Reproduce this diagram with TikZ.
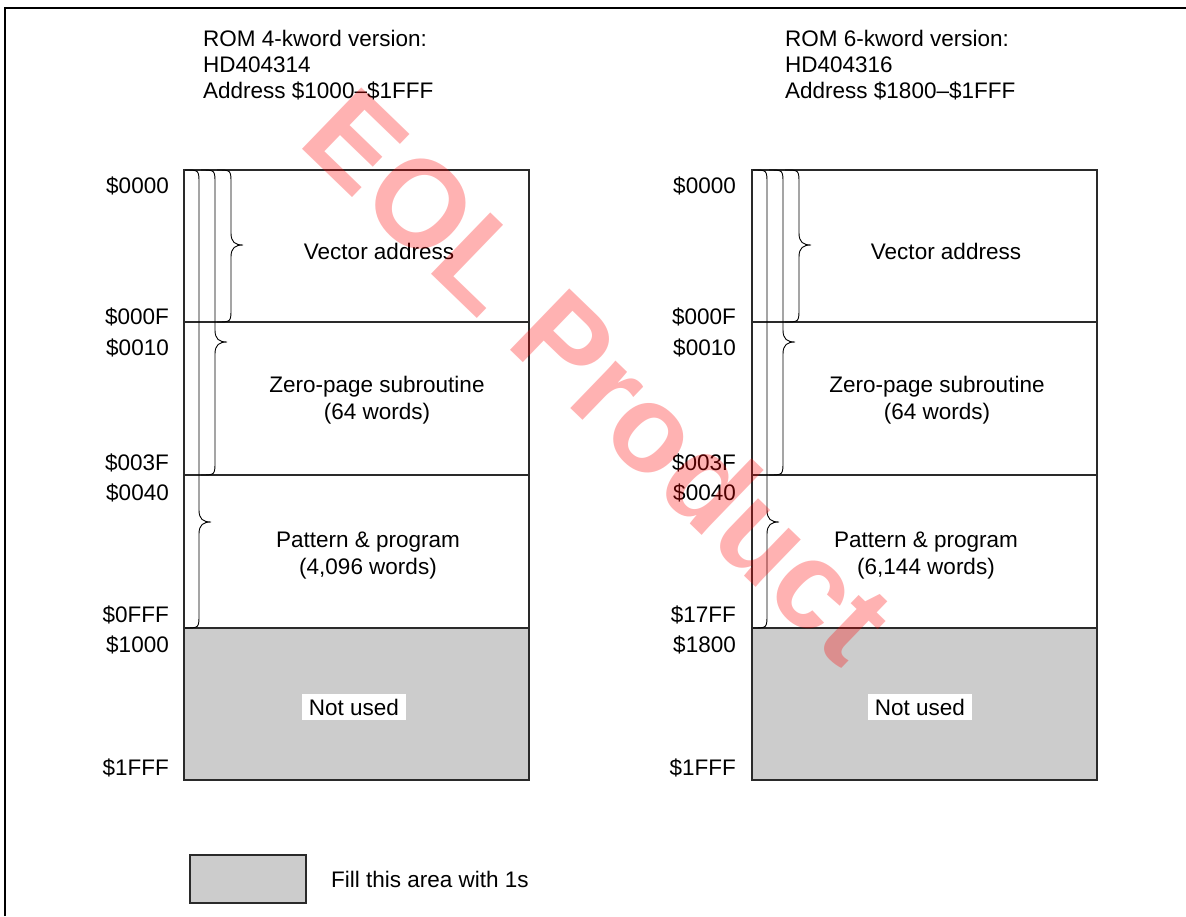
\documentclass[tikz,border=0pt]{standalone}
\usepackage{fontspec}
\setmainfont{Liberation Sans}
\definecolor{unused}{HTML}{CCCCCC}
\definecolor{boxline}{HTML}{2A2A2A}
\tikzset{
  frameline/.style={draw=black, line width=1.6pt},
  memsec/.style={draw=boxline, line width=1.3pt},
  grayarea/.style={fill=unused, draw=boxline, line width=1.3pt},
  bracepath/.style={draw=black, line width=0.9pt},
  addr/.style={anchor=base east, inner sep=0pt, font=\fontsize{22.5}{27}\selectfont},
  head/.style={anchor=base west, inner sep=0pt, align=left, font=\fontsize{22.5}{26}\selectfont},
  sectxt/.style={anchor=base, inner sep=0pt, align=center, font=\fontsize{22.5}{27}\selectfont},
  notused/.style={fill=white, inner xsep=7pt, inner ysep=5pt, font=\fontsize{22.5}{27}\selectfont},
  wmark/.style={text=red, opacity=0.3, font=\bfseries\fontsize{124}{124}\selectfont, inner sep=0pt},
}
\begin{document}
\begin{tikzpicture}[x=1pt,y=-1pt]
\useasboundingbox (0,0) rectangle (1186,916);
% outer frame (only top and left edges visible)
\draw[frameline] (5,916) -- (5,8) -- (1186,8);

% memory maps
\foreach \bx in {184,752}{
  \fill[unused] (\bx,628) rectangle ({\bx+345},780);
  \draw[memsec] (\bx,170) rectangle ({\bx+345},780);
  \draw[memsec] (\bx,322) -- ({\bx+345},322);
  \draw[memsec] (\bx,475) -- ({\bx+345},475);
  \draw[memsec] (\bx,628) -- ({\bx+345},628);
  % braces: stem offset / bottom / tip y
  \foreach \so/\bb/\my in {47/322/245, 31/475/342, 15/628/522}{
    \draw[bracepath] ({\bx+\so-14},170) .. controls ({\bx+\so},170) .. ({\bx+\so},184)
      -- ({\bx+\so},{\my-12})
      .. controls ({\bx+\so},{\my-3}) and ({\bx+\so+4},\my) .. ({\bx+\so+12},\my)
      .. controls ({\bx+\so+4},\my) and ({\bx+\so},{\my+3}) .. ({\bx+\so},{\my+12})
      -- ({\bx+\so},{\bb-14})
      .. controls ({\bx+\so},\bb) .. ({\bx+\so-14},\bb);
  }
}

% headers (base anchor = last line)
\node[head] (h1) at (203,98) {ROM 4-kword version:\\HD404314\\Address \$1000–\$1FFF};
\node[head] (h2) at (785,98) {ROM 6-kword version:\\HD404316\\Address \$1800–\$1FFF};

% address labels, left
\node[addr] (la0) at (169,193) {\$0000};
\node[addr] (la1) at (169,324) {\$000F};
\node[addr] (la2) at (169,355) {\$0010};
\node[addr] (la3) at (169,470) {\$003F};
\node[addr] (la4) at (169,500) {\$0040};
\node[addr] (la5) at (169,622) {\$0FFF};
\node[addr] (la6) at (169,652) {\$1000};
\node[addr] (la7) at (169,775) {\$1FFF};
% address labels, right
\node[addr] (ra0) at (736,193) {\$0000};
\node[addr] (ra1) at (736,324) {\$000F};
\node[addr] (ra2) at (736,355) {\$0010};
\node[addr] (ra3) at (736,470) {\$003F};
\node[addr] (ra4) at (736,500) {\$0040};
\node[addr] (ra5) at (736,622) {\$17FF};
\node[addr] (ra6) at (736,652) {\$1800};
\node[addr] (ra7) at (736,775) {\$1FFF};

% section texts, left
\node[sectxt] (lv) at (379,259) {Vector address};
\node[sectxt] (lz) at (377,419) {Zero-page subroutine\\(64 words)};
\node[sectxt] (lp) at (368,574) {Pattern \& program\\(4,096 words)};
\node[notused] (ln) at (354,707) {Not used};
% section texts, right
\node[sectxt] (rv) at (946,259) {Vector address};
\node[sectxt] (rz) at (937,419) {Zero-page subroutine\\(64 words)};
\node[sectxt] (rp) at (926,574) {Pattern \& program\\(6,144 words)};
\node[notused] (rn) at (920,707) {Not used};

% legend
\draw[grayarea] (190,855) rectangle (306,903);
\node[anchor=base west, inner sep=0pt, font=\fontsize{22.5}{27}\selectfont] (leg) at (331,887) {Fill this area with 1s};

% watermark
\node[wmark, rotate=-44] (wm) at (600,375) {EOL Product};
\end{tikzpicture}
\end{document}
